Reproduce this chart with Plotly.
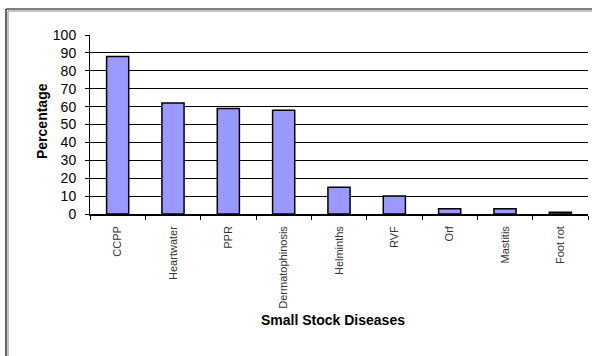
import plotly.graph_objects as go

# Survey results: share of respondents reporting each small stock disease
diseases = ["CCPP", "Heartwater", "PPR", "Dermatophinosis", "Helminths",
            "RVF", "Orf", "Mastitis", "Foot rot"]
percentages = [88, 62, 59, 58, 15, 10, 3, 3, 1]
y_ticks = list(range(0, 101, 10))

W, H = 592, 356
L, R, T, B = 90, 4, 35, 142
PW, PH = W - L - R, H - T - B


def px_x(x):
    return (x - L) / PW


def px_y(y):
    return 1 - (y - T) / PH


fig = go.Figure(
    go.Bar(
        x=diseases,
        y=percentages,
        marker=dict(color="#9999FF", line=dict(color="#000000", width=1.5)),
    )
)

fig.update_layout(
    width=W,
    height=H,
    margin=dict(l=L, r=R, t=T, b=B, pad=0),
    paper_bgcolor="white",
    plot_bgcolor="white",
    bargap=0.6,
    showlegend=False,
    font=dict(family="Arial, Liberation Sans, sans-serif", color="#000000"),
)

fig.update_yaxes(
    range=[0, 100],
    tickvals=y_ticks,
    showgrid=True,
    gridcolor="#000000",
    gridwidth=1,
    showline=True,
    linecolor="#000000",
    linewidth=1,
    ticks="outside",
    ticklen=4,
    tickcolor="#000000",
    ticklabelstandoff=6,
    tickfont=dict(size=14, color="#000000"),
    zeroline=False,
)

fig.update_xaxes(
    showline=True,
    linecolor="#000000",
    linewidth=1.5,
    ticks="outside",
    tickson="boundaries",
    ticklen=4,
    tickcolor="#000000",
    tickangle=-90,
    ticklabelstandoff=6,
    tickfont=dict(size=11, color="#333333"),
    showgrid=False,
)

# Axis titles
fig.add_annotation(
    text="<b>Small Stock Diseases</b>",
    xref="paper", yref="paper",
    x=px_x(333), y=px_y(330),
    showarrow=False,
    font=dict(size=14, color="#000000"),
)
fig.add_annotation(
    text="<b>Percentage</b>",
    xref="paper", yref="paper",
    x=px_x(32), y=px_y(121),
    textangle=-90,
    showarrow=False,
    font=dict(size=14, color="#000000"),
)

# Chart frame: double line along top and left edges
frame = [
    (6, "#000000", 1.2),
    (8, "#888888", 1),
]
for pos, col, w in frame:
    fig.add_shape(type="line", xref="paper", yref="paper",
                  x0=px_x(pos), x1=px_x(W + 2),
                  y0=px_y(pos + 3), y1=px_y(pos + 3),
                  line=dict(color=col, width=w))
    fig.add_shape(type="line", xref="paper", yref="paper",
                  x0=px_x(pos), x1=px_x(pos),
                  y0=px_y(pos + 3), y1=px_y(H + 2),
                  line=dict(color=col, width=w))

fig.write_html("out.html")
